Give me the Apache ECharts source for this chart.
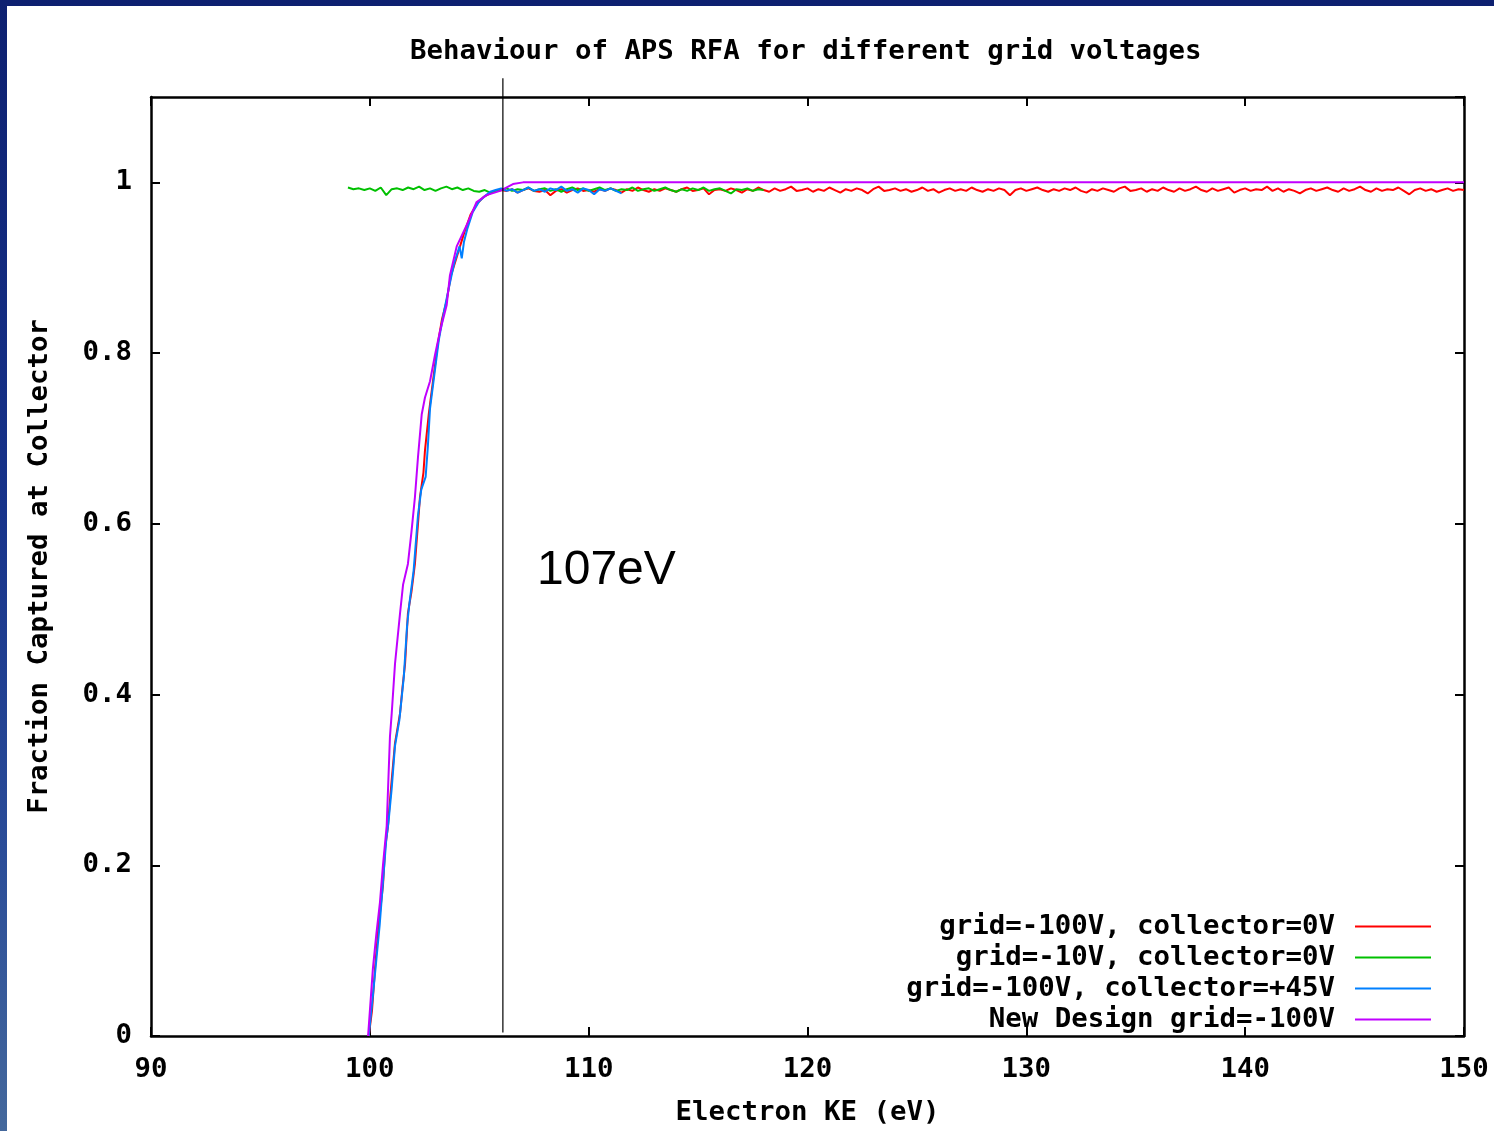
<!DOCTYPE html>
<html>
<head>
<meta charset="utf-8">
<script src="https://cdn.jsdelivr.net/npm/echarts@6/dist/echarts.min.js"></script>
<style>
html,body{margin:0;padding:0;width:1494px;height:1131px;overflow:hidden;}
body{background:linear-gradient(to bottom,#0d2070 0%,#17338a 45%,#2a4c98 75%,#44689c 100%);position:relative;}
#chart{position:absolute;left:7px;top:6px;width:1487px;height:1125px;background:#ffffff;}
</style>
</head>
<body>
<div id="chart"></div>
<script>
// ---- data ----
const titleText = 'Behaviour of APS RFA for different grid voltages';
const xName = 'Electron KE (eV)';
const yName = 'Fraction Captured at Collector';
const seriesNames = ['grid=-100V, collector=0V', 'grid=-10V, collector=0V', 'grid=-100V, collector=+45V', 'New Design grid=-100V'];
const seriesColors = ['#ff0000', '#00c000', '#0080ff', '#c000ff'];
const xTicks = [90, 100, 110, 120, 130, 140, 150];
const yTicks = [0, 0.2, 0.4, 0.6, 0.8, 1];
const markerX = 106.08;
const markerLabel = '107eV';

// rising edges (x, y)
const redRise = [[99.95,0],[100.1,0.03],[100.24,0.08],[100.4,0.13],[100.6,0.176],[100.7,0.22],[100.83,0.246],[100.9,0.27],[101.0,0.30],[101.15,0.343],[101.38,0.378],[101.5,0.41],[101.61,0.436],[101.74,0.495],[101.9,0.52],[102.06,0.553],[102.2,0.60],[102.29,0.631],[102.45,0.66],[102.52,0.686],[102.7,0.73],[102.9,0.77],[103.1,0.81],[103.3,0.84],[103.5,0.86],[103.7,0.89],[104.0,0.915],[104.3,0.94],[104.6,0.962],[104.9,0.975],[105.2,0.983],[105.5,0.987],[105.75,0.99]];
const blueRise = [[99.95,0],[100.15,0.05],[100.3,0.09],[100.45,0.13],[100.6,0.18],[100.75,0.23],[100.85,0.25],[101.0,0.29],[101.15,0.34],[101.35,0.37],[101.55,0.42],[101.7,0.48],[101.8,0.505],[102.0,0.545],[102.2,0.61],[102.35,0.64],[102.55,0.655],[102.65,0.69],[102.75,0.735],[102.95,0.775],[103.15,0.815],[103.4,0.85],[103.6,0.875],[103.85,0.905],[104.1,0.925],[104.2,0.911],[104.3,0.93],[104.45,0.945],[104.7,0.965],[105.0,0.978],[105.3,0.985]];
const magentaCurve = [[99.92,0],[100.14,0.079],[100.3,0.12],[100.46,0.156],[100.6,0.2],[100.77,0.246],[100.92,0.351],[101.0,0.378],[101.15,0.436],[101.38,0.495],[101.52,0.529],[101.74,0.553],[101.9,0.59],[102.06,0.631],[102.2,0.678],[102.37,0.728],[102.52,0.748],[102.75,0.767],[102.98,0.798],[103.21,0.826],[103.51,0.856],[103.66,0.891],[103.97,0.925],[104.43,0.950],[104.88,0.977],[105.34,0.985],[105.95,0.990],[106.54,0.998],[107,1.0],[150,1.0]];

// flat noisy parts: values sampled every 0.25 eV
const noiseStep = 0.25;
const redFlatStart = 106.0;
const redFlat = [
0.991,0.990,0.992,0.988, 0.991,0.993,0.990,0.989, 0.991,0.985,0.990,0.992, 0.988,0.991,0.993,0.990,
0.991,0.989,0.992,0.990, 0.993,0.991,0.988,0.992, 0.990,0.994,0.991,0.989, 0.992,0.990,0.993,0.991,
0.989,0.992,0.994,0.990, 0.991,0.993,0.986,0.991, 0.992,0.990,0.993,0.991, 0.988,0.992,0.990,0.994,
0.991,0.989,0.993,0.990, 0.992,0.995,0.990,0.991, 0.993,0.989,0.992,0.990, 0.994,0.991,0.988,0.992,
0.990,0.993,0.991,0.987, 0.992,0.995,0.990,0.991, 0.993,0.990,0.992,0.989, 0.991,0.994,0.990,0.992,
0.988,0.991,0.993,0.990, 0.992,0.990,0.994,0.991, 0.989,0.992,0.990,0.993, 0.991,0.985,0.991,0.993,
0.990,0.992,0.994,0.991, 0.989,0.992,0.990,0.993, 0.991,0.994,0.990,0.988, 0.992,0.990,0.993,0.991,
0.989,0.993,0.995,0.990, 0.991,0.993,0.989,0.992, 0.990,0.994,0.991,0.989, 0.993,0.990,0.992,0.995,
0.991,0.989,0.993,0.990, 0.992,0.994,0.988,0.991, 0.993,0.990,0.992,0.991, 0.995,0.990,0.993,0.989,
0.992,0.990,0.987,0.991, 0.993,0.990,0.992,0.994, 0.991,0.989,0.993,0.990, 0.992,0.995,0.991,0.989,
0.993,0.990,0.992,0.991, 0.994,0.990,0.986,0.991, 0.993,0.990,0.992,0.989, 0.991,0.993,0.990,0.992,
0.991];
const greenFlatStart = 99.0;
const greenFlat = [
0.994,0.992,0.993,0.991, 0.993,0.990,0.994,0.985, 0.992,0.993,0.991,0.994, 0.992,0.995,0.991,0.993,
0.990,0.993,0.995,0.992, 0.994,0.991,0.993,0.990, 0.989,0.991,0.988,0.990, 0.991,0.993,0.990,0.992,
0.991,0.994,0.990,0.992, 0.993,0.990,0.992,0.989, 0.992,0.994,0.991,0.993, 0.990,0.992,0.994,0.991,
0.993,0.990,0.992,0.991, 0.994,0.990,0.992,0.993, 0.990,0.992,0.994,0.991, 0.989,0.992,0.990,0.993,
0.991,0.994,0.990,0.992, 0.993,0.990,0.987,0.992, 0.991,0.993,0.990,0.992, 0.991];
const blueFlatStart = 105.5;
const blueFlat = [
0.989,0.991, 0.993,0.990,0.992,0.988, 0.991,0.994,0.990,0.992, 0.989,0.993,0.991,0.995,
0.990,0.992,0.988,0.993, 0.991,0.986,0.992,0.990, 0.993,0.990,0.987];

// ---- build ----
function withFlat(rise, start, vals) {
  const out = rise.slice();
  vals.forEach((v, i) => out.push([start + i * noiseStep, v]));
  return out;
}
const redData = withFlat(redRise, redFlatStart, redFlat);
const greenData = withFlat([], greenFlatStart, greenFlat);
const blueData = withFlat(blueRise, blueFlatStart, blueFlat);
const magentaData = magentaCurve;

const FONT = '"DejaVu Sans Mono", "Liberation Mono", monospace';
const fs = 27.4;
const black = '#000000';

const chart = echarts.init(document.getElementById('chart'), null, {renderer: 'canvas', width: 1487, height: 1125});

function yFmt(v) {
  if (v > 1.05) return '';
  return String(Math.round(v * 10) / 10);
}

const axisCommon = {
  axisLine: {show: true, onZero: false, lineStyle: {color: black, width: 2.5}},
  axisTick: {show: true, inside: true, length: 9, lineStyle: {color: black, width: 2}},
  splitLine: {show: false},
};

const option = {
  animation: false,
  backgroundColor: '#ffffff',
  title: {
    text: titleText, left: 403, top: 32, padding: 0,
    textStyle: {fontFamily: FONT, fontSize: fs, fontWeight: 'bold', color: black}
  },
  grid: {left: 144, top: 91, right: 30, bottom: 90, containLabel: false},
  legend: {
    orient: 'vertical', right: 63, top: 905, padding: 0, itemGap: 0,
    align: 'right', itemWidth: 76, itemHeight: 2, icon: 'rect', selectedMode: false,
    data: seriesNames,
    textStyle: {fontFamily: FONT, fontSize: fs, fontWeight: 'bold', color: black, lineHeight: 31, padding: [0, 15, 0, 0]}
  },
  xAxis: [
    Object.assign({}, axisCommon, {
      type: 'value', min: xTicks[0], max: xTicks[xTicks.length - 1], interval: 10, position: 'bottom',
      name: xName, nameLocation: 'middle', nameGap: 63,
      nameTextStyle: {fontFamily: FONT, fontSize: fs, fontWeight: 'bold', color: black},
      axisLabel: {margin: 20, fontFamily: FONT, fontSize: fs, fontWeight: 'bold', color: black}
    }),
    Object.assign({}, axisCommon, {
      type: 'value', min: xTicks[0], max: xTicks[xTicks.length - 1], interval: 10, position: 'top',
      axisLabel: {show: false}
    })
  ],
  yAxis: [
    Object.assign({}, axisCommon, {
      type: 'value', min: yTicks[0], max: 1.1, interval: 0.2, position: 'left',
      name: yName, nameLocation: 'middle', nameGap: 98, nameRotate: 90,
      nameTextStyle: {fontFamily: FONT, fontSize: fs, fontWeight: 'bold', color: black},
      axisLabel: {margin: 19, fontFamily: FONT, fontSize: fs, fontWeight: 'bold', color: black, formatter: yFmt, showMaxLabel: false}
    }),
    Object.assign({}, axisCommon, {
      type: 'value', min: yTicks[0], max: 1.1, interval: 0.2, position: 'right',
      axisLabel: {show: false}
    })
  ],
  series: [
    {name: seriesNames[0], type: 'line', data: redData, showSymbol: false, symbol: 'none', color: seriesColors[0], lineStyle: {width: 2, color: seriesColors[0]}, z: 2},
    {name: seriesNames[1], type: 'line', data: greenData, showSymbol: false, symbol: 'none', color: seriesColors[1], lineStyle: {width: 2, color: seriesColors[1]}, z: 3},
    {name: seriesNames[2], type: 'line', data: blueData, showSymbol: false, symbol: 'none', color: seriesColors[2], lineStyle: {width: 2, color: seriesColors[2]}, z: 4},
    {name: seriesNames[3], type: 'line', data: magentaData, showSymbol: false, symbol: 'none', color: seriesColors[3], lineStyle: {width: 2, color: seriesColors[3]}, z: 5},
    {name: 'marker', type: 'line', data: [[markerX, 0.004], [markerX, 1.122]], showSymbol: false, symbol: 'none', clip: false,
      lineStyle: {width: 1.2, color: black}, z: 6, silent: true}
  ],
  graphic: [
    {type: 'text', left: 530, top: 541, style: {text: markerLabel, font: '48px "Liberation Sans", Arial, sans-serif', fill: black}}
  ]
};
chart.setOption(option);
</script>
</body>
</html>
